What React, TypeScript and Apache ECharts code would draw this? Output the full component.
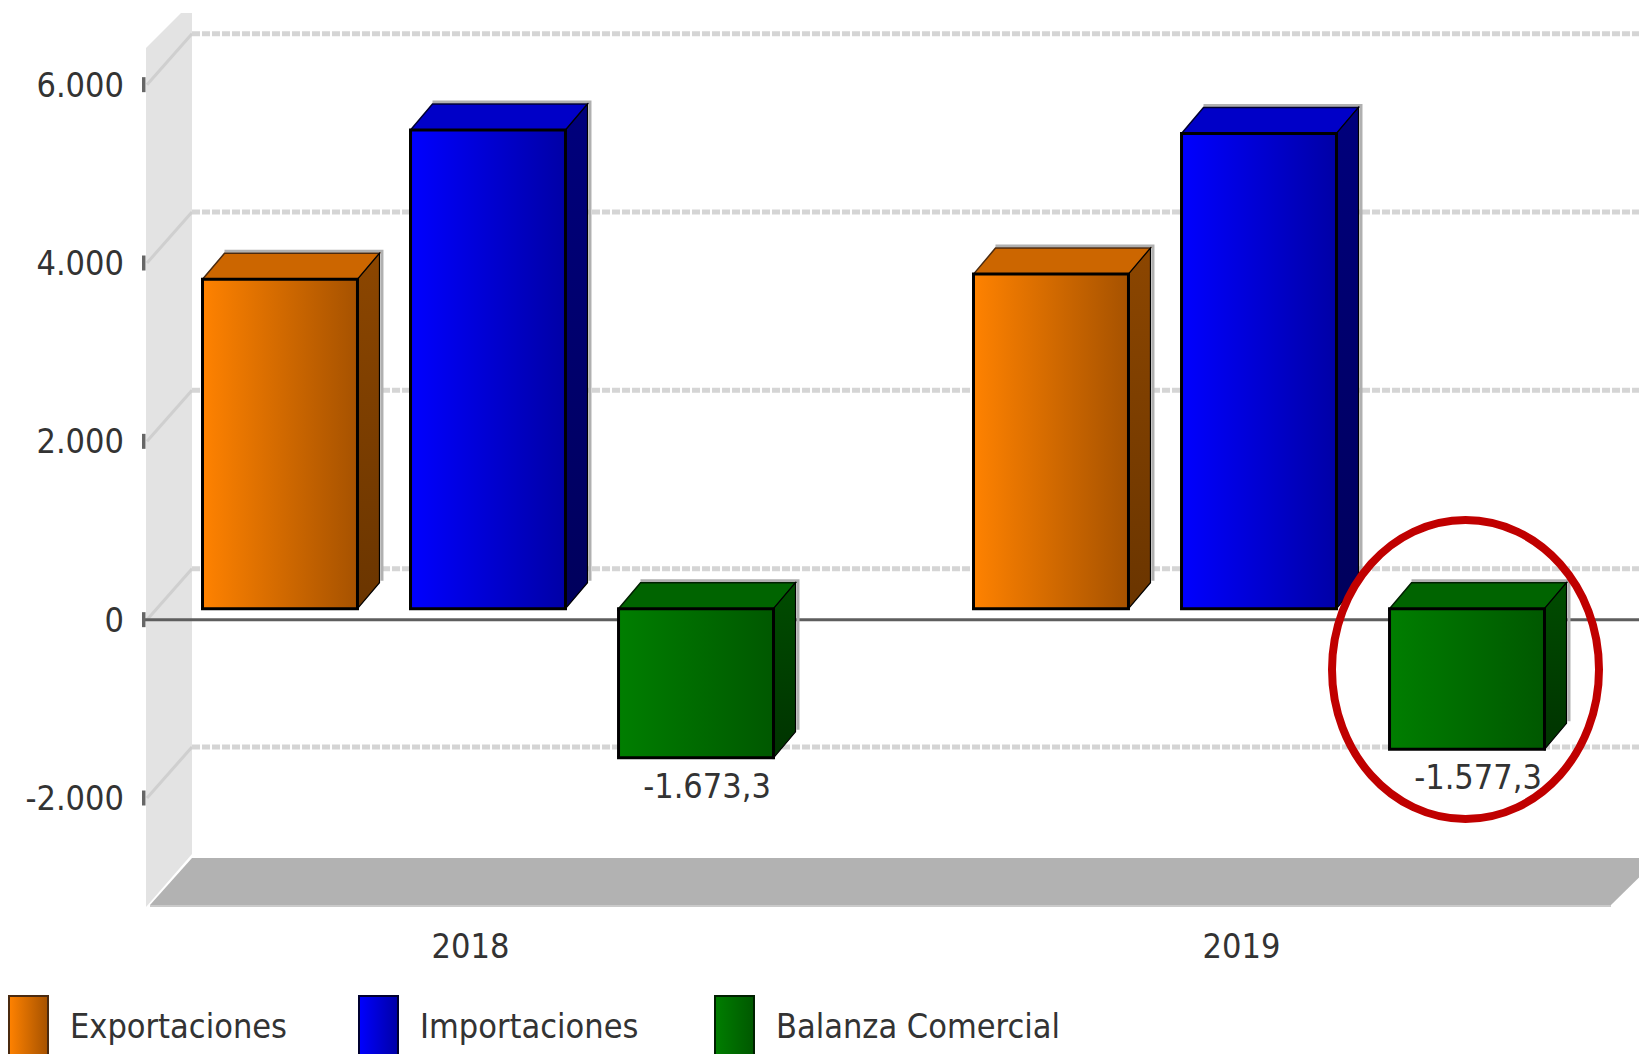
import React, { useEffect, useRef } from 'react';
import * as echarts from 'echarts';

// ---- data ----
const categories = ['2018', '2019'];
const seriesNames = ['Exportaciones', 'Importaciones', 'Balanza Comercial'];
const exportaciones = [3693.7, 3752.0];
const importaciones = [5367.0, 5329.3];
const balanza = [-1673.3, -1577.3];
const yTicks = [-2000, 0, 2000, 4000, 6000];

// ---- styling constants ----
const FONT = "'Liberation Sans Narrow', 'DejaVu Sans Condensed', 'Arial Narrow', 'Liberation Sans', sans-serif";
const FONT_SIZE = 34;
const TEXT_COLOR = '#333333';
const WALL_FRONT_X = 146;
const WALL_BACK_X = 192;
const BACK_DY = -51;
const FACE_SHIFT_Y = -11;
const DEPTH_X = 22;
const DEPTH_Y = -26;
const BAR_OFFSETS = [-0.3476, -0.0778, 0.192];
const BAR_WIDTH = 0.201;
const PAGE_W = 1639;
const LEGEND_LEFT = [8, 358, 714];

const palettes = [
  { f0: '#ff8200', f1: '#a65200', top: '#cc6600', s0: '#8c4600', s1: '#6a3500', edge: '#4a2a10' },
  { f0: '#0000ff', f1: '#0000a6', top: '#0000c8', s0: '#00007c', s1: '#00005c', edge: '#000030' },
  { f0: '#007e00', f1: '#005800', top: '#006400', s0: '#004c00', s1: '#003300', edge: '#002000' },
];

function fmt(v: number, decimals: number): string {
  const neg = v < 0;
  const abs = Math.abs(v);
  const fixed = abs.toFixed(decimals);
  const [intPart, dec] = fixed.split('.');
  const grouped = intPart.replace(/\B(?=(\d{3})+(?!\d))/g, '.');
  return (neg ? '-' : '') + grouped + (dec ? ',' + dec : '');
}

const lg = (x2: number, y2: number, c0: string, c1: string) =>
  new echarts.graphic.LinearGradient(0, 0, x2, y2, [
    { offset: 0, color: c0 },
    { offset: 1, color: c1 },
  ]);

function makeBarRender(idx: number, showLabel: boolean) {
  const p = palettes[idx];
  return (params: any, api: any) => {
    const cat = api.value(0);
    const val = api.value(1);
    const p0 = api.coord([cat, 0]);
    const p1 = api.coord([cat, val]);
    const band = api.size([1, 0])[0];
    const x1 = p0[0] + BAR_OFFSETS[idx] * band;
    const x2 = x1 + band * BAR_WIDTH;
    const yA = p0[1] + FACE_SHIFT_Y;
    const yB = p1[1] + FACE_SHIFT_Y;
    const yt = Math.min(yA, yB);
    const yb = Math.max(yA, yB);
    const dx = DEPTH_X;
    const dy = DEPTH_Y;
    const children: any[] = [
      {
        type: 'polyline',
        shape: { points: [[x1 + dx, yt + dy - 2], [x2 + dx + 2.5, yt + dy - 2], [x2 + dx + 2.5, yb + dy - 2]] },
        style: { stroke: '#b0b0b0', lineWidth: 3, fill: 'none' },
      },
      {
        type: 'polygon',
        shape: { points: [[x1, yt], [x1 + dx, yt + dy], [x2 + dx, yt + dy], [x2, yt]] },
        style: { fill: p.top, stroke: p.edge, lineWidth: 1.5 },
      },
      {
        type: 'polygon',
        shape: { points: [[x2, yt], [x2 + dx, yt + dy], [x2 + dx, yb + dy], [x2, yb]] },
        style: { fill: lg(0, 1, p.s0, p.s1), stroke: '#000', lineWidth: 1.2 },
      },
      {
        type: 'rect',
        shape: { x: x1, y: yt, width: x2 - x1, height: yb - yt },
        style: { fill: lg(1, 0, p.f0, p.f1), stroke: '#000', lineWidth: 3 },
      },
    ];
    if (showLabel) {
      children.push({
        type: 'text',
        style: {
          text: fmt(val, 1),
          x: (x1 + x2) / 2 + dx / 2,
          y: yb + 28,
          align: 'center',
          verticalAlign: 'middle',
          fontSize: FONT_SIZE,
          fontFamily: FONT,
          fill: TEXT_COLOR,
        },
      });
    }
    return { type: 'group', children };
  };
}

function renderBackground(params: any, api: any) {
  const cs = params.coordSys;
  const yBottom = cs.y + cs.height;
  const yZero = api.coord([0, 0])[1];
  const children: any[] = [];
  children.push({
    type: 'polygon',
    shape: {
      points: [
        [WALL_FRONT_X, yBottom + 2],
        [WALL_FRONT_X, cs.y - 1],
        [WALL_FRONT_X + 35, cs.y - 36],
        [WALL_BACK_X, cs.y - 36],
        [WALL_BACK_X, yBottom + BACK_DY],
      ],
    },
    style: { fill: '#e3e3e3' },
  });
  yTicks.forEach((v) => {
    const yf = api.coord([0, v])[1];
    const yb = yf + BACK_DY;
    children.push({
      type: 'line',
      shape: { x1: WALL_FRONT_X + 1, y1: yf, x2: WALL_BACK_X, y2: yb },
      style: { stroke: '#cfcfcf', lineWidth: 3 },
    });
    children.push({
      type: 'line',
      shape: { x1: WALL_BACK_X, y1: yb, x2: PAGE_W, y2: yb },
      style: { stroke: '#d5d5d5', lineWidth: 5, lineDash: [8, 2] },
    });
  });
  children.push({
    type: 'polygon',
    shape: {
      points: [
        [WALL_FRONT_X + 4, yBottom],
        [WALL_BACK_X, yBottom - 47],
        [PAGE_W + 20, yBottom - 47],
        [PAGE_W - 28, yBottom],
      ],
    },
    style: { fill: '#b2b2b2' },
  });
  children.push({
    type: 'line',
    shape: { x1: WALL_FRONT_X + 4, y1: yBottom + 1, x2: PAGE_W - 28, y2: yBottom + 1 },
    style: { stroke: '#cacaca', lineWidth: 2 },
  });
  children.push({
    type: 'line',
    shape: { x1: WALL_FRONT_X - 3, y1: yZero, x2: PAGE_W, y2: yZero },
    style: { stroke: '#5e5e5e', lineWidth: 3 },
  });
  yTicks.forEach((v) => {
    const yf = api.coord([0, v])[1];
    children.push({
      type: 'rect',
      shape: { x: WALL_FRONT_X - 4, y: yf - 7.5, width: 3.5, height: 15 },
      style: { fill: '#666666' },
    });
  });
  return { type: 'group', children };
}

export default function App() {
  const ref = useRef<HTMLDivElement>(null);
  useEffect(() => {
    if (!ref.current) return;
    const chart = echarts.init(ref.current, undefined, { renderer: 'svg' });
    const valuesList = [exportaciones, importaciones, balanza];
    const option: any = {
      animation: false,
      backgroundColor: '#ffffff',
      grid: { left: 85, right: 12, top: 49, bottom: 149, containLabel: false },
      xAxis: {
        type: 'category',
        data: categories,
        axisLine: { show: false },
        axisTick: { show: false },
        splitLine: { show: false },
        axisLabel: { fontSize: FONT_SIZE, fontFamily: FONT, color: TEXT_COLOR, margin: 24 },
      },
      yAxis: {
        type: 'value',
        min: -3200,
        max: 6400,
        minInterval: 2000,
        maxInterval: 2000,
        offset: -61,
        axisLine: { show: false },
        axisTick: { show: false },
        splitLine: { show: false },
        axisLabel: {
          fontSize: FONT_SIZE,
          fontFamily: FONT,
          color: TEXT_COLOR,
          margin: 22,
          showMinLabel: false,
          showMaxLabel: false,
          formatter: (v: number) => (yTicks.indexOf(v) >= 0 ? fmt(v, 0) : ''),
        },
      },
      legend: seriesNames.map((name, i) => ({
        data: [name],
        left: LEGEND_LEFT[i],
        top: 995,
        padding: 0,
        itemWidth: 39,
        itemHeight: 59,
        icon: 'rect',
        textStyle: { fontSize: FONT_SIZE, fontFamily: FONT, color: TEXT_COLOR, padding: [0, 0, 0, 17] },
      })),
      series: [
        {
          type: 'custom',
          name: 'fondo',
          silent: true,
          clip: false,
          z: 1,
          renderItem: renderBackground,
          data: [[0, 0]],
          encode: { x: 0, y: 1 },
        },
        ...seriesNames.map((name, i) => ({
          type: 'custom',
          name,
          clip: false,
          z: 2,
          renderItem: makeBarRender(i, i === 2),
          itemStyle: {
            color: lg(1, 0, palettes[i].f0, palettes[i].f1),
            borderColor: palettes[i].edge,
            borderWidth: 1,
          },
          data: categories.map((_, k) => [k, valuesList[i][k]]),
          encode: { x: 0, y: 1 },
        })),
      ],
      graphic: [
        {
          type: 'ellipse',
          shape: { cx: 1465.5, cy: 669.5, rx: 133.5, ry: 149.5 },
          style: { fill: 'none', stroke: '#c00000', lineWidth: 8 },
          z: 100,
        },
      ],
    };
    chart.setOption(option);
    return () => chart.dispose();
  }, []);
  return (
    <div
      ref={ref}
      style={{ position: 'fixed', left: 0, top: 0, width: 1639, height: 1054, background: '#fff' }}
    />
  );
}
